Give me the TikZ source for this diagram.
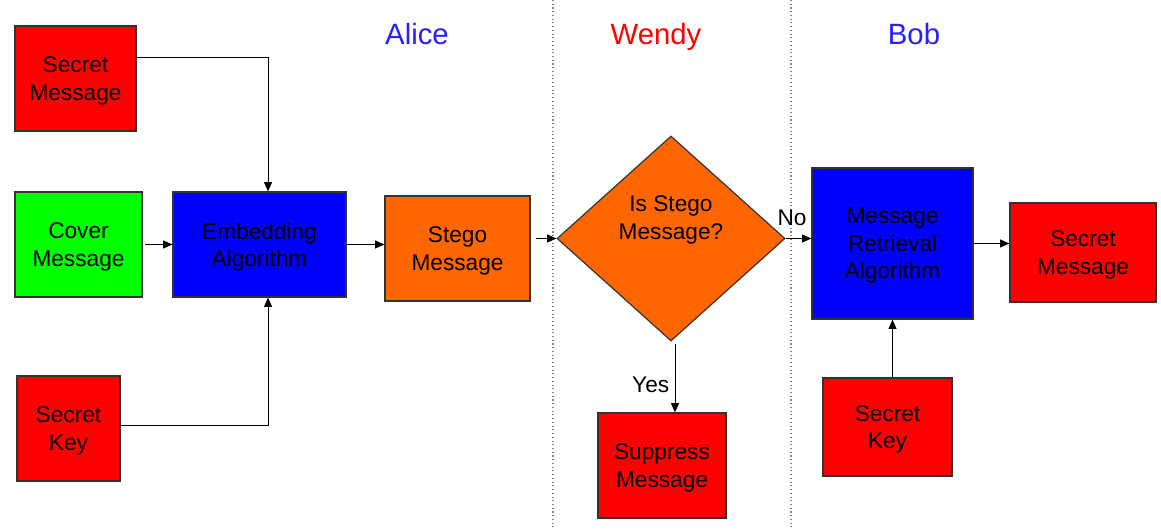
\documentclass[tikz,border=0pt]{standalone}
\usepackage{fontspec}
\setmainfont{Liberation Sans}
\usetikzlibrary{arrows.meta,shapes.geometric}
\tikzstyle{block} = [rectangle, draw=black!80, line width=0.9pt, inner sep=0pt, align=center, text depth=-2.4pt, font=\fontsize{17}{20.5}\selectfont]
\tikzstyle{decision} = [diamond, draw=black!80, line width=0.9pt, inner sep=0pt, fill=stegoorange, minimum width=171pt, minimum height=153.75pt]
\tikzstyle{party} = [anchor=base, font=\fontsize{22}{26}\selectfont]
\tikzstyle{answer} = [font=\fontsize{17}{20}\selectfont, inner sep=1pt]
\tikzstyle{arr} = [-{Triangle[length=7pt,width=6pt]}, line width=0.75pt]
\definecolor{stegoorange}{RGB}{255,102,0}
\definecolor{alicebob}{RGB}{40,30,255}

\begin{document}
\begin{tikzpicture}[x=0.75pt,y=-0.75pt]
\useasboundingbox (0,0) rectangle (1161,530);

% swim lanes
\draw[gray, dotted, line width=0.8pt] (553,0) -- (553,530);
\draw[gray, dotted, line width=0.8pt] (791,0) -- (791,530);

\node (alice) [party, text=alicebob] at (417,44.5) {Alice};
\node (wendy) [party, text=red] at (656,44.5) {Wendy};
\node (bob) [party, text=alicebob] at (914,44.5) {Bob};

% Alice
\node (secmsg) [block, fill=red, minimum width=90.75pt, minimum height=78.75pt] at (75.5,78.5) {Secret\\Message};
\node (cover) [block, fill=green, minimum width=95.25pt, minimum height=78.75pt] at (78.5,244.5) {Cover\\Message};
\node (embed) [block, fill=blue, minimum width=129.75pt, minimum height=78.75pt] at (259.5,244.5) {Embedding\\Algorithm};
\node (key) [block, fill=red, minimum width=77.25pt, minimum height=78.75pt] at (68.5,428.5) {Secret\\Key};
\node (stego) [block, fill=stegoorange, minimum width=108.75pt, minimum height=78.75pt] at (457.5,248.5) {Stego\\Message};

% Wendy
\node (check) [decision] at (671,238.5) {};
\node (checktext) [align=center, font=\fontsize{17}{20.5}\selectfont] at (671,220) {Is Stego\\Message?};
\node (supp) [block, fill=red, minimum width=96pt, minimum height=78.75pt] at (662,465.5) {Suppress\\Message};

% Bob
\node (retr) [block, fill=blue, minimum width=120.75pt, minimum height=113.25pt] at (892.5,243.5) {Message\\Retrieval\\Algorithm};
\node (secout) [block, fill=red, minimum width=109.5pt, minimum height=74.25pt] at (1083,252.5) {Secret\\Message};
\node (key2) [block, fill=red, minimum width=96.75pt, minimum height=73.5pt] at (887.5,427) {Secret\\Key};

% connectors
\draw[arr] ([yshift=16pt]secmsg.east) -| ([xshift=6.4pt]embed.north);
\draw[arr] ([yshift=2.5pt]key.east) -| ([xshift=6.4pt]embed.south);
\draw[arr, shorten <=2pt] (cover.east) -- (embed.west);
\draw[arr] (embed.east) -- (embed.east -| stego.west);
\draw[arr, shorten <=4pt] (stego.east |- check.west) -- (check.west);
\draw[arr] (check.east) -- (check.east -| retr.west)
  node[answer, pos=0.25, above, yshift=8pt] {No};
\draw[arr] ([xshift=3pt,yshift=-1.5pt]check.south) -- ([xshift=3pt]check.south |- supp.north)
  node[answer, pos=0.6, left, xshift=-3pt] {Yes};
\draw[arr] (retr.east) -- (retr.east -| secout.west);
\draw[arr] (retr.south |- key2.north) -- (retr.south);
\end{tikzpicture}
\end{document}
